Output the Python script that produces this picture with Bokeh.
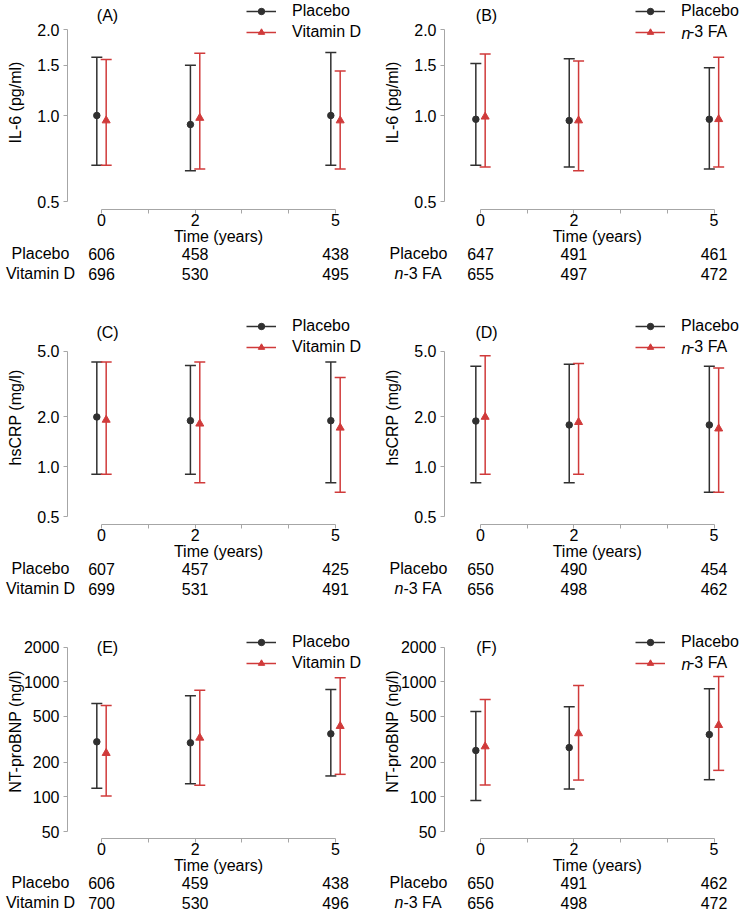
import math
from bokeh.plotting import figure
from bokeh.models import (Range1d, FixedTicker, NumeralTickFormatter, Whisker, TeeHead,
                          ColumnDataSource, Label, Legend, LegendItem)
from bokeh.layouts import gridplot
from bokeh.embed import file_html
from bokeh.resources import INLINE

# ---------------- data ----------------
time = [0, 2, 5]
x_major_ticks = [0, 2, 5]
x_minor_ticks = [1, 3, 4]
x_title = "Time (years)"
placebo_name = "Placebo"
vitd_name = "Vitamin D"
n3_name = "n-3 FA"

il6_label = "IL-6 (pg/ml)"
crp_label = "hsCRP (mg/l)"
bnp_label = "NT-proBNP (ng/l)"
il6_ticks = [0.5, 1.0, 1.5, 2.0]
crp_ticks = [0.5, 1.0, 2.0, 5.0]
bnp_ticks = [50, 100, 200, 500, 1000, 2000]

# (A) IL-6, Vitamin D trial
a_pla_mean = [1.00, 0.93, 1.00]
a_pla_lo = [0.67, 0.64, 0.67]
a_pla_hi = [1.60, 1.50, 1.66]
a_trt_mean = [0.96, 0.98, 0.96]
a_trt_lo = [0.67, 0.65, 0.65]
a_trt_hi = [1.57, 1.65, 1.43]
a_n_pla = [606, 458, 438]
a_n_trt = [696, 530, 495]

# (B) IL-6, n-3 FA trial
b_pla_mean = [0.97, 0.96, 0.97]
b_pla_lo = [0.67, 0.66, 0.65]
b_pla_hi = [1.52, 1.58, 1.47]
b_trt_mean = [0.99, 0.96, 0.97]
b_trt_lo = [0.66, 0.64, 0.66]
b_trt_hi = [1.64, 1.55, 1.60]
b_n_pla = [647, 491, 461]
b_n_trt = [655, 497, 472]

# (C) hsCRP, Vitamin D trial
c_pla_mean = [2.00, 1.90, 1.90]
c_pla_lo = [0.90, 0.90, 0.80]
c_pla_hi = [4.30, 4.10, 4.30]
c_trt_mean = [1.92, 1.82, 1.72]
c_trt_lo = [0.90, 0.80, 0.70]
c_trt_hi = [4.30, 4.30, 3.47]
c_n_pla = [607, 457, 425]
c_n_trt = [699, 531, 491]

# (D) hsCRP, n-3 FA trial
d_pla_mean = [1.89, 1.79, 1.79]
d_pla_lo = [0.80, 0.80, 0.70]
d_pla_hi = [4.06, 4.17, 4.06]
d_trt_mean = [2.00, 1.86, 1.70]
d_trt_lo = [0.90, 0.90, 0.70]
d_trt_hi = [4.69, 4.21, 3.95]
d_n_pla = [650, 490, 454]
d_n_trt = [656, 498, 462]

# (E) NT-proBNP, Vitamin D trial
e_pla_mean = [301, 295, 353]
e_pla_lo = [119, 130, 152]
e_pla_hi = [648, 755, 857]
e_trt_mean = [240, 326, 412]
e_trt_lo = [102, 126, 157]
e_trt_hi = [622, 846, 1083]
e_n_pla = [606, 459, 438]
e_n_trt = [700, 530, 496]

# (F) NT-proBNP, n-3 FA trial
f_pla_mean = [253, 268, 348]
f_pla_lo = [93, 117, 141]
f_pla_hi = [552, 606, 869]
f_trt_mean = [274, 356, 420]
f_trt_lo = [127, 140, 170]
f_trt_hi = [702, 929, 1112]
f_n_pla = [650, 491, 462]
f_n_trt = [656, 498, 472]

# ---------------- style / layout ----------------
FONT = "Liberation Sans"
FS = "16px"
BLACK = "#303030"
RED = "#d03a3a"
GRAY = "#a6a6a6"
OFFSET = 0.1
NAN = float("nan")

W = 375
ROW_H = [314, 314, 282]
AXIS_PX = [209, 210, 210]       # x-axis line, local px from top
YTOP_PX = [29, 36.7, 18.7]      # top y tick
YBOT_PX = [201, 202, 203]       # bottom y tick
YAX_PX = [67, 69]               # y-axis line
X0_PX = [101, 105]              # x = 0
PPU = [46.8, 46.7]              # px per year
LEG_X = [246, 260]
LEG_D = [168, 168, 166]
LEG_GW = 30
LEG_STAND = 16
LET_X = [107, 111]
LET_D = [194, 192, 191]
YLAB_X = [15, 17]
ROWLAB_CX = [40, 43]


def panel(col, row, letter, ylabel, ticks, fmt, trt_name,
          pm, pl, ph, tm, tl, th, npl, ntr):
    H = ROW_H[row]
    ax = AXIS_PX[row]
    ytop = YTOP_PX[row]
    ybot = YBOT_PX[row]
    ppu = PPU[col]
    x0 = X0_PX[col]
    x_start = -x0 / ppu
    x_end = (W - x0) / ppu
    lo_v, hi_v = ticks[0], ticks[-1]
    k = (math.log10(hi_v) - math.log10(lo_v)) / (ybot - ytop)
    y_start = 10 ** (math.log10(lo_v) - k * (H - ybot))
    y_end = 10 ** (math.log10(hi_v) + k * ytop)
    y_axis_val = 10 ** (math.log10(lo_v) - k * (ax - ybot))
    x_axis_val = (YAX_PX[col] - x0) / ppu

    def ys(d):
        return (H - ax) + d

    def lab(text, x, d, xu="screen", align="center", italic=False, angle=0.0):
        p.add_layout(Label(x=x, y=ys(d), x_units=xu, y_units="screen", text=text,
                           text_font=FONT, text_font_size=FS, text_align=align,
                           text_baseline="middle", text_color="black", angle=angle,
                           text_font_style="italic" if italic else "normal"))

    p = figure(width=W, height=H, x_range=Range1d(x_start, x_end),
               y_range=Range1d(y_start, y_end), y_axis_type="log",
               output_backend="svg", toolbar_location=None, title=None,
               min_border_left=0, min_border_right=0, min_border_top=0,
               min_border_bottom=0)
    p.outline_line_color = None
    p.grid.visible = False
    p.background_fill_color = "white"

    xa = p.xaxis[0]
    xa.fixed_location = y_axis_val
    xa.ticker = FixedTicker(ticks=x_major_ticks, minor_ticks=x_minor_ticks)
    xa.bounds = (time[0], time[-1])
    xa.axis_line_color = GRAY
    xa.major_tick_line_color = GRAY
    xa.minor_tick_line_color = GRAY
    xa.major_tick_in = 0
    xa.major_tick_out = 4
    xa.minor_tick_in = 0
    xa.minor_tick_out = 4
    xa.major_label_text_font = FONT
    xa.major_label_text_font_size = FS
    xa.major_label_text_color = "black"
    xa.major_label_standoff = 0

    ya = p.yaxis[0]
    ya.fixed_location = x_axis_val
    ya.ticker = FixedTicker(ticks=ticks, minor_ticks=[])
    ya.formatter = NumeralTickFormatter(format=fmt)
    ya.bounds = (lo_v, hi_v)
    ya.axis_line_color = GRAY
    ya.major_tick_line_color = GRAY
    ya.minor_tick_line_color = None
    ya.major_tick_in = 0
    ya.major_tick_out = 4
    ya.major_label_text_font = FONT
    ya.major_label_text_font_size = FS
    ya.major_label_text_color = "black"
    ya.major_label_standoff = 4

    sp = ColumnDataSource(dict(x=[t - OFFSET for t in time], m=pm, lo=pl, hi=ph))
    st = ColumnDataSource(dict(x=[t + OFFSET for t in time], m=tm, lo=tl, hi=th))
    for src, c in ((sp, BLACK), (st, RED)):
        p.add_layout(Whisker(source=src, base="x", upper="hi", lower="lo",
                             dimension="height", line_color=c, line_width=1.5,
                             upper_head=TeeHead(size=11, line_color=c, line_width=1.5),
                             lower_head=TeeHead(size=11, line_color=c, line_width=1.5)))
    p.scatter("x", "m", source=sp, marker="circle", size=6.5, color=BLACK)
    p.scatter("x", "m", source=st, marker="triangle", size=8, color=RED)

    # legend: placeholder renderers (NaN, draw nothing) that only carry styles
    l1 = p.line(x=[NAN], y=[NAN], line_color=BLACK, line_width=1.5)
    s1 = p.scatter(x=[NAN], y=[NAN], marker="circle", size=6, color=BLACK)
    l2 = p.line(x=[NAN], y=[NAN], line_color=RED, line_width=1.5)
    s2 = p.scatter(x=[NAN], y=[NAN], marker="triangle", size=8, color=RED)
    is_n3 = trt_name == n3_name
    trt_leg = "\u2002" + trt_name[1:] if is_n3 else trt_name
    legend = Legend(items=[LegendItem(label=placebo_name, renderers=[l1, s1]),
                           LegendItem(label=trt_leg, renderers=[l2, s2])],
                    location=(LEG_X[col], ys(LEG_D[row])), glyph_width=LEG_GW,
                    glyph_height=16, label_height=16, label_standoff=LEG_STAND,
                    spacing=3, padding=0, margin=0, border_line_color=None,
                    background_fill_alpha=0, label_text_font=FONT,
                    label_text_font_size=FS, label_text_color="black")
    p.add_layout(legend)
    if is_n3:
        lab(trt_name[0], LEG_X[col] + LEG_GW + LEG_STAND, LEG_D[row] + 8,
            align="left", italic=True)

    # texts
    lab("(%s)" % letter, LET_X[col], LET_D[row])
    lab(ylabel, YLAB_X[col], 107, angle=math.pi / 2)
    lab(x_title, (time[0] + time[-1]) / 2, -27, xu="data")
    cx = ROWLAB_CX[col]
    lab(placebo_name, cx, -44)
    if is_n3:
        start = cx - 24
        lab(trt_name[0], start, -64, align="left", italic=True)
        lab(trt_name[1:], start + 8.9, -64, align="left")
    else:
        lab(trt_name, cx, -64)
    for i, t in enumerate(time):
        lab(str(npl[i]), t, -44, xu="data")
        lab(str(ntr[i]), t, -64, xu="data")
    return p


pA = panel(0, 0, "A", il6_label, il6_ticks, "0.0", vitd_name,
           a_pla_mean, a_pla_lo, a_pla_hi, a_trt_mean, a_trt_lo, a_trt_hi, a_n_pla, a_n_trt)
pB = panel(1, 0, "B", il6_label, il6_ticks, "0.0", n3_name,
           b_pla_mean, b_pla_lo, b_pla_hi, b_trt_mean, b_trt_lo, b_trt_hi, b_n_pla, b_n_trt)
pC = panel(0, 1, "C", crp_label, crp_ticks, "0.0", vitd_name,
           c_pla_mean, c_pla_lo, c_pla_hi, c_trt_mean, c_trt_lo, c_trt_hi, c_n_pla, c_n_trt)
pD = panel(1, 1, "D", crp_label, crp_ticks, "0.0", n3_name,
           d_pla_mean, d_pla_lo, d_pla_hi, d_trt_mean, d_trt_lo, d_trt_hi, d_n_pla, d_n_trt)
pE = panel(0, 2, "E", bnp_label, bnp_ticks, "0", vitd_name,
           e_pla_mean, e_pla_lo, e_pla_hi, e_trt_mean, e_trt_lo, e_trt_hi, e_n_pla, e_n_trt)
pF = panel(1, 2, "F", bnp_label, bnp_ticks, "0", n3_name,
           f_pla_mean, f_pla_lo, f_pla_hi, f_trt_mean, f_trt_lo, f_trt_hi, f_n_pla, f_n_trt)

grid = gridplot([[pA, pB], [pC, pD], [pE, pF]], toolbar_location=None)
open("out.html", "w").write(file_html(grid, INLINE))
